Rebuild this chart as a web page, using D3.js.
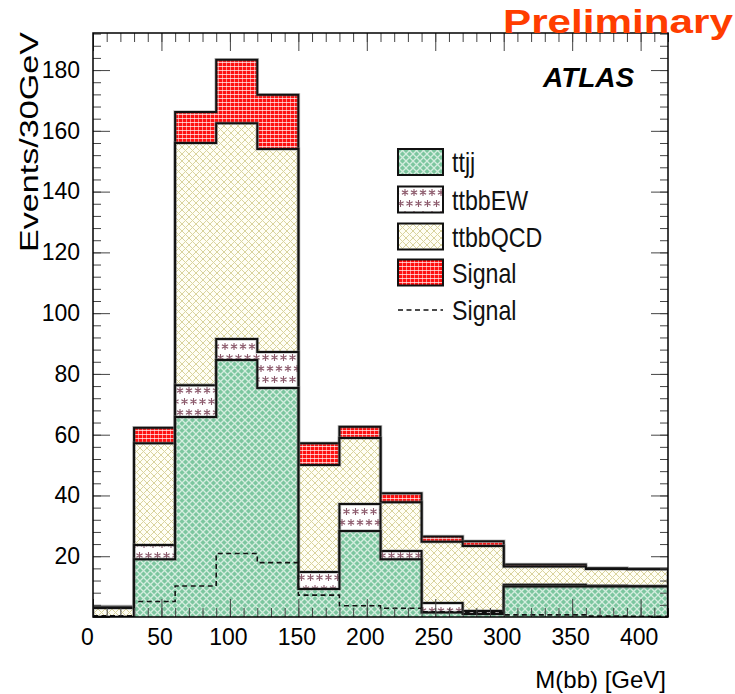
<!DOCTYPE html>
<html>
<head>
<meta charset="utf-8">
<script src="https://cdn.jsdelivr.net/npm/d3@7"></script>
<style>
  html, body { margin: 0; padding: 0; background: #fff; }
  svg { display: block; font-family: "Liberation Sans", Arial, Helvetica, sans-serif; }
</style>
</head>
<body>
<svg id="chart" width="735" height="694"></svg>
<script>
// ---- data (bins of 30 GeV, lower edges) ----
const binLow   = [0, 30, 60, 90, 120, 150, 180, 210, 240, 270, 300, 330, 360, 390];
const binWidth = 30;
const ttjj     = [0, 19.0, 65.8, 84.6, 75.4, 9.2, 28.3, 19.0, 1.5, 1.0, 10.0, 10.0, 10.0, 10.0];
const ttbbEW   = [0, 4.7, 10.5, 6.9, 11.8, 5.6, 8.9, 2.7, 3.1, 1.0, 0.6, 0.6, 0.3, 0.2];
const ttbbQCD  = [3.0, 33.5, 79.7, 71.0, 66.8, 35.2, 21.7, 16.1, 20.2, 21.4, 6.0, 6.0, 5.5, 5.5];
const signal   = [0.4, 5.1, 10.2, 20.9, 17.9, 7.2, 3.7, 2.9, 1.7, 1.5, 0.7, 0.7, 0.3, 0.2];
const xTicks   = [0, 50, 100, 150, 200, 250, 300, 350, 400];
const yTicks   = [20, 40, 60, 80, 100, 120, 140, 160, 180];
const legendLabels = ["ttjj", "ttbbEW", "ttbbQCD", "Signal", "Signal"];

const svg = d3.select("#chart");
const L = 93, R = 668, T = 33, B = 617;
const x = d3.scaleLinear().domain([0, 420]).range([L, R]);
const y = d3.scaleLinear().domain([0, 192.2]).range([B, T]);

// ---- patterns ----
const defs = svg.append("defs");
function pat(id, w, h) {
  return defs.append("pattern").attr("id", id).attr("patternUnits", "userSpaceOnUse")
    .attr("width", w).attr("height", h);
}
// ttjj : green with light diamond net
let p = pat("pGreen", 7, 7);
p.append("rect").attr("width", 7).attr("height", 7).attr("fill", "#7cc69f");
p.append("path").attr("d", "M0,0L7,7M7,0L0,7").attr("stroke", "#e4f4ea").attr("stroke-width", 1.3).attr("opacity", 0.85);
// ttbbQCD : pale yellow with olive cross-hatch
p = pat("pYellow", 7, 7);
p.append("rect").attr("width", 7).attr("height", 7).attr("fill", "#fffef4");
p.append("path").attr("d", "M0,0L7,7M7,0L0,7").attr("stroke", "#d9d39e").attr("stroke-width", 1);
// ttbbEW : white with mauve asterisks
p = pat("pEW", 9, 22);
p.append("rect").attr("width", 9).attr("height", 22).attr("fill", "#ffffff");
function star(cx, cy) {
  const r = 3.6, a = 3.1, b = 1.8;
  return `M${cx},${cy - r}L${cx},${cy + r}M${cx - a},${cy - b}L${cx + a},${cy + b}M${cx - a},${cy + b}L${cx + a},${cy - b}`;
}
p.append("path").attr("d", star(4.5, 5.5) + star(0, 16.5) + star(9, 16.5))
  .attr("stroke", "#8c5a6c").attr("stroke-width", 1.1);
// Signal : red with white grid
p = pat("pRed", 4, 4);
p.append("rect").attr("width", 4).attr("height", 4).attr("fill", "#ff1010");
p.append("path").attr("d", "M0,2.5H4").attr("stroke", "#fff").attr("stroke-width", 1).attr("opacity", 0.7);
p.append("path").attr("d", "M2.5,0V4").attr("stroke", "#fff").attr("stroke-width", 1).attr("opacity", 0.5);

// ---- stacked cumulative histograms ----
const cumTTjj = ttjj.slice();
const cumEW = ttjj.map((v, i) => v + ttbbEW[i]);
const cumQCD = cumEW.map((v, i) => v + ttbbQCD[i]);
const cumSig = cumQCD.map((v, i) => v + signal[i]);

function stepPath(vals, closed) {
  let d = `M${x(binLow[0])},${y(0)}`;
  vals.forEach((v, i) => {
    d += `L${x(binLow[i])},${y(v)}L${x(binLow[i] + binWidth)},${y(v)}`;
  });
  d += `L${x(binLow[binLow.length - 1] + binWidth)},${y(0)}`;
  if (closed) d += "Z";
  return d;
}
function stepLine(vals) {
  let d = "";
  vals.forEach((v, i) => {
    d += (i === 0 ? "M" : "L") + `${x(binLow[i])},${y(v)}L${x(binLow[i] + binWidth)},${y(v)}`;
  });
  return d;
}

svg.append("clipPath").attr("id", "frameClip").append("rect")
  .attr("x", L).attr("y", T).attr("width", R - L).attr("height", B - T);
const plot = svg.append("g").attr("clip-path", "url(#frameClip)");

const layers = [
  { vals: cumSig, fill: "url(#pRed)" },
  { vals: cumQCD, fill: "url(#pYellow)" },
  { vals: cumEW, fill: "url(#pEW)" },
  { vals: cumTTjj, fill: "url(#pGreen)" }
];
layers.forEach(l => {
  plot.append("path").attr("d", stepPath(l.vals, true)).attr("fill", l.fill).attr("stroke", "none");
  plot.append("path").attr("d", stepPath(l.vals, false)).attr("fill", "none")
    .attr("stroke", "#777").attr("stroke-width", 3.6).attr("stroke-opacity", 0.45);
  plot.append("path").attr("d", stepPath(l.vals, false)).attr("fill", "none")
    .attr("stroke", "#111").attr("stroke-width", 2);
});

// dashed signal
plot.append("path").attr("d", stepLine(signal)).attr("fill", "none")
  .attr("stroke", "#111").attr("stroke-width", 1.6).attr("stroke-dasharray", "5,3.5");

// ---- axes ----
const tickColor = "#444";
const xMinor = d3.range(0, 421, 10);
const yMinor = d3.range(0, 193, 4);

function styleAxis(g, showText) {
  g.select(".domain").remove();
  g.selectAll(".tick line").attr("stroke", tickColor).attr("stroke-width", 1);
  if (!showText) g.selectAll(".tick text").remove();
  g.selectAll(".tick text").attr("fill", "#000").style("font-size", "23px")
    .style("font-family", '"Liberation Sans", Arial, Helvetica, sans-serif');
}
// bottom
svg.append("g").attr("transform", `translate(0,${B})`)
  .call(d3.axisBottom(x).tickValues(xMinor).tickSize(-9).tickFormat(""))
  .call(g => styleAxis(g, false));
svg.append("g").attr("transform", `translate(0,${B})`)
  .call(d3.axisBottom(x).tickValues(xTicks).tickSize(-18).tickPadding(12).tickFormat(d3.format("d")))
  .call(g => styleAxis(g, true))
  .call(g => g.selectAll(".tick text").attr("x", d => d === 0 ? -6 : -2));
// top
svg.append("g").attr("transform", `translate(0,${T})`)
  .call(d3.axisTop(x).tickValues(xMinor).tickSize(-9).tickFormat(""))
  .call(g => styleAxis(g, false));
svg.append("g").attr("transform", `translate(0,${T})`)
  .call(d3.axisTop(x).tickValues(xTicks).tickSize(-18).tickFormat(""))
  .call(g => styleAxis(g, false));
// left
svg.append("g").attr("transform", `translate(${L},0)`)
  .call(d3.axisLeft(y).tickValues(yMinor).tickSize(-8).tickFormat(""))
  .call(g => styleAxis(g, false));
svg.append("g").attr("transform", `translate(${L},0)`)
  .call(d3.axisLeft(y).tickValues([0].concat(yTicks)).tickSize(-17).tickPadding(13).tickFormat(d => d === 0 ? "" : d))
  .call(g => styleAxis(g, true));
// right
svg.append("g").attr("transform", `translate(${R},0)`)
  .call(d3.axisRight(y).tickValues(yMinor).tickSize(-8).tickFormat(""))
  .call(g => styleAxis(g, false));
svg.append("g").attr("transform", `translate(${R},0)`)
  .call(d3.axisRight(y).tickValues([0].concat(yTicks)).tickSize(-17).tickFormat(""))
  .call(g => styleAxis(g, false));

// frame
svg.append("rect").attr("x", L).attr("y", T).attr("width", R - L).attr("height", B - T)
  .attr("fill", "none").attr("stroke", "#000").attr("stroke-width", 1.5);

// ---- axis titles ----
svg.append("text").attr("x", 666).attr("y", 688).attr("text-anchor", "end")
  .style("font-size", "24px").attr("fill", "#000").text("M(bb) [GeV]");
svg.append("text").attr("transform", "translate(38,32) rotate(-90)").attr("text-anchor", "end")
  .style("font-size", "26px").attr("fill", "#000")
  .attr("textLength", 220).attr("lengthAdjust", "spacingAndGlyphs").text("Events/30GeV");

// ---- legend ----
const legFills = ["url(#pGreen)", "url(#pEW)", "url(#pYellow)", "url(#pRed)", null];
const legY = [162, 199.5, 236.5, 272.5, 310];
const leg = svg.append("g");
legendLabels.forEach((lab, i) => {
  const cy = legY[i];
  if (legFills[i]) {
    leg.append("rect").attr("x", 398).attr("y", cy - 13).attr("width", 45).attr("height", 26)
      .attr("fill", legFills[i]).attr("stroke", "#111").attr("stroke-width", 2);
  } else {
    leg.append("line").attr("x1", 398).attr("x2", 443).attr("y1", cy).attr("y2", cy)
      .attr("stroke", "#111").attr("stroke-width", 1.6).attr("stroke-dasharray", "5,3.5");
  }
  leg.append("text").attr("transform", `translate(452,${cy + 10}) scale(0.86,1)`)
    .style("font-size", "27px").attr("fill", "#111").text(lab);
});

// ---- labels ----
svg.append("text").attr("x", 543).attr("y", 87)
  .style("font-size", "28px").style("font-weight", "bold").style("font-style", "italic")
  .attr("fill", "#000").text("ATLAS");
svg.append("text").attr("x", 503).attr("y", 33)
  .style("font-size", "34px").style("font-weight", "bold")
  .attr("textLength", 230).attr("lengthAdjust", "spacingAndGlyphs")
  .attr("fill", "#ff3d00").text("Preliminary");
</script>
</body>
</html>
